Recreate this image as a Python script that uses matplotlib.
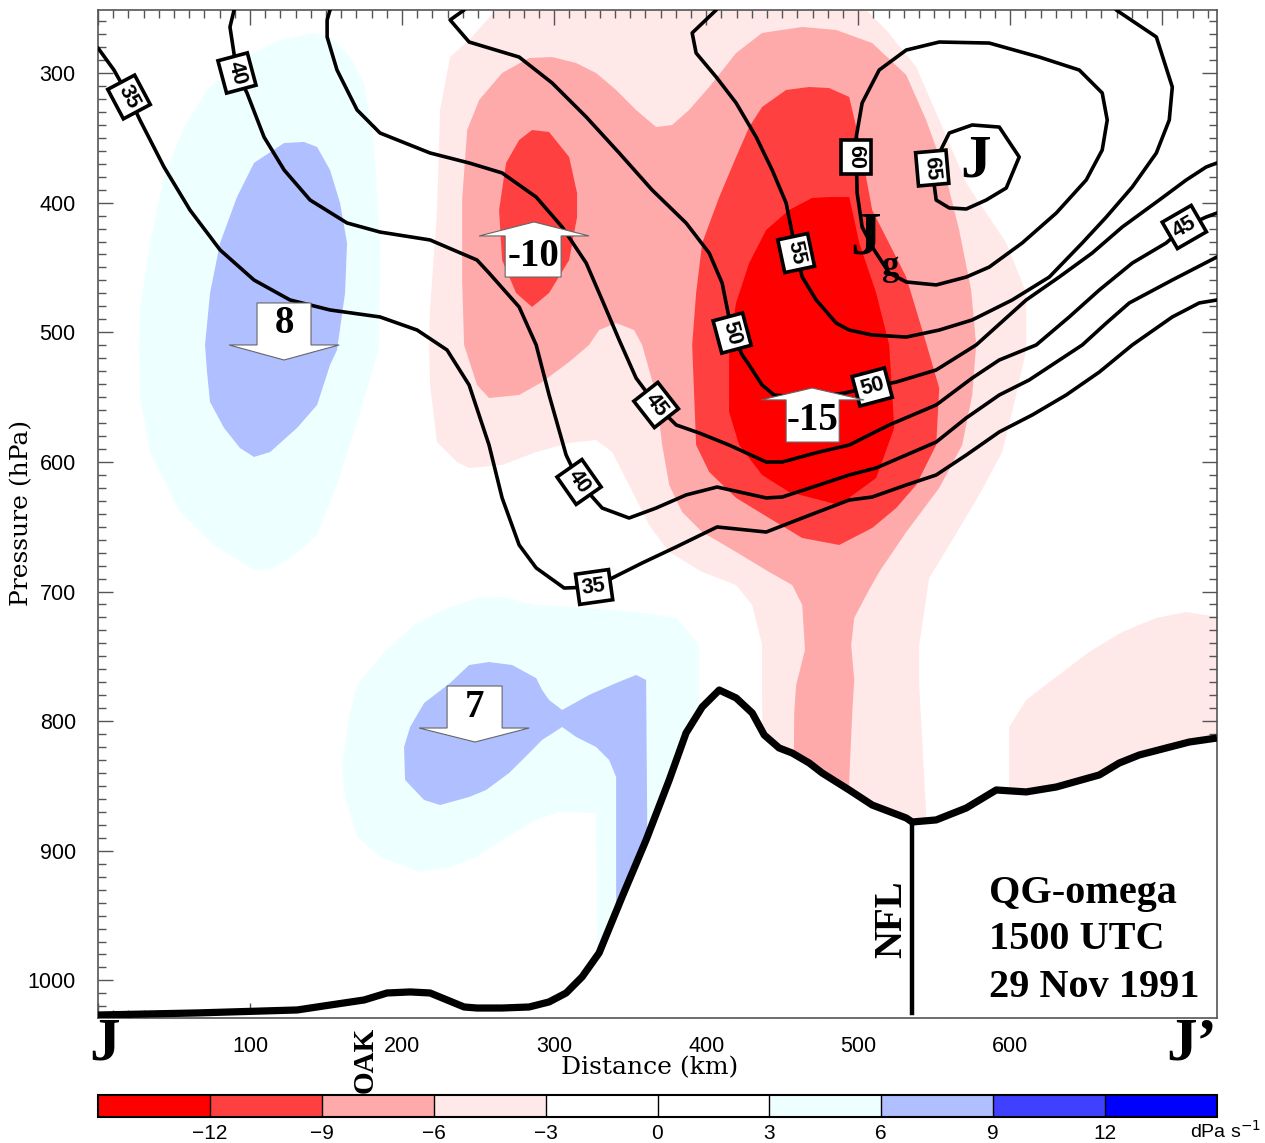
import matplotlib
matplotlib.use("Agg")
import matplotlib.pyplot as plt
from matplotlib.colors import ListedColormap, BoundaryNorm
from matplotlib.cm import ScalarMappable
from matplotlib.ticker import MultipleLocator

# ---------------- data (distance km, pressure hPa) ----------------
omega_levels = [-15, -12, -9, -6, -3, 0, 3, 6, 9, 12, 15]
omega_colors = ['#ff0000', '#ff4040', '#ffaaaa', '#ffe8e8', '#ffffff',
                '#ffffff', '#eeffff', '#afbfff', '#4040ff', '#0000ff']
cbar_ticks = [-12, -9, -6, -3, 0, 3, 6, 9, 12]

x_ticks = [0, 100, 200, 300, 400, 500, 600, 700]
x_ticklabels = ['', '100', '200', '300', '400', '500', '600', '']
y_ticks = [300, 400, 500, 600, 700, 800, 900, 1000]

terrain = [(0, 1026.7), (65.1, 1025.1), (131, 1022.8), (152.6, 1019), (175, 1015.1),
           (190.1, 1009.7), (205.3, 1008.9), (218.4, 1009.7), (229.6, 1015.1),
           (240.8, 1020.5), (249.3, 1021.3), (265.8, 1021.3), (283.6, 1020.5),
           (296.7, 1016.6), (307.9, 1009.7), (318.4, 997.3), (329.6, 978.8),
           (344.7, 935.6), (360.5, 891.7), (375.7, 845.4), (386.8, 809.1),
           (397.4, 789.1), (408.6, 776), (419.7, 782.1), (430.3, 793.7),
           (438.2, 810.7), (448, 820.7), (456.6, 824.6), (467.8, 832.3),
           (476.3, 840), (494.1, 853.1), (509.2, 864.7), (531.6, 874.7),
           (535.5, 877.8), (551.3, 876.2), (571.1, 867), (590.8, 853.1),
           (610.5, 854.6), (630.3, 850.8), (658.6, 841.5), (671.7, 832.3),
           (684.9, 826.1), (702.6, 820.7), (717.8, 816.1), (736, 813)]
nfl_km = 535.5
nfl_top_hpa = 877.8
nfl_bottom_hpa = 1025

# omega (dPa/s) filled regions, boundary polygons per contour level
omega_m3_main = [(261.8, 251.4), (505.3, 251.4), (518.4, 266.8), (538.2, 295.4), (553.3, 336.3),
                 (571.1, 384.9), (597.4, 431.1), (610.5, 469.7), (610.5, 513.7), (601.3, 561.5),
                 (594.7, 592.4), (579.6, 625.5), (559.9, 664.1), (546.7, 689.6), (540.1, 741.2),
                 (540.1, 772.1), (544.7, 870.8), (544.7, 1029), (438.2, 1029), (436.8, 772.1),
                 (436.8, 741.2), (430.3, 710.4), (419.7, 695), (397.4, 684.9), (375.7, 669.5),
                 (362.5, 648.7), (349.3, 617.8), (338.2, 592.4), (327.6, 583.1), (309.9, 585.4),
                 (288.2, 592.4), (265.8, 602.4), (244.1, 604.7), (236.2, 600.1), (223, 584.7),
                 (218.4, 540.7), (217.8, 509.8), (218.4, 482.8), (223, 405.7), (225, 328.5),
                 (231.6, 287.7), (244.1, 274.5)]
omega_m3_right = [(599.3, 1029), (599.3, 850.8), (599.3, 804.5), (610.5, 783.7), (627.6, 768.2),
                  (652, 746.6), (673.7, 731.2), (696.1, 720.4), (715.8, 715.8), (736, 719.6),
                  (736, 1029)]
omega_m6 = [(250.7, 320.8), (265.8, 300), (283.6, 288.4), (298.7, 287.7), (314.5, 292.3),
            (327.6, 300), (340.8, 313.1), (353.9, 328.5), (367.1, 341.7), (377.6, 340.1),
            (388.8, 328.5), (402, 310.8), (419.7, 284.6), (436.8, 269.1), (463.2, 264.5),
            (485.5, 266.8), (509.2, 276.9), (531.6, 301.5), (544.7, 336.3), (556.6, 374.8),
            (566.4, 421.1), (574.3, 467.4), (577.6, 509.8), (575, 548.4), (568.4, 587),
            (553.3, 620.1), (531.6, 654.1), (513.8, 684.9), (505.3, 702.7), (497.4, 720.4),
            (495.4, 741.2), (497.4, 768.2), (496.1, 793.7), (494.1, 845.4), (494.1, 1029),
            (456.6, 1029), (457.9, 793.7), (459.2, 772.1), (465, 745), (463.2, 710.4),
            (456.6, 695), (441.4, 684.9), (419.7, 669.5), (397.4, 654.1), (384.2, 638.7),
            (375.7, 617.8), (371.1, 587), (367.1, 548.4), (357.9, 509.8), (352.6, 498.3),
            (340.8, 492.9), (329.6, 498.3), (323, 509.8), (309.9, 522.9), (292.1, 538.4),
            (277, 548.4), (257.2, 550.7), (249.3, 540.7), (240.8, 509.8), (239.5, 459.7),
            (239.5, 398), (242.8, 344)]
omega_m9_left = [(285.5, 344), (296.7, 345.5), (309.9, 364.8), (315.1, 392.6), (315.1, 411.1),
                 (309.9, 444.3), (296.7, 469.7), (285.5, 480.5), (275, 469.7), (265.8, 444.3),
                 (263.8, 405.7), (268.4, 369.4), (277, 351.7)]
omega_m9_center = [(452.6, 313.1), (467.8, 310.8), (480.9, 311.6), (494.1, 318.5), (500.7, 351.7),
                   (509.2, 405.7), (531.6, 457.4), (544.7, 508.3), (553.3, 543), (551.3, 587),
                   (538.2, 617.8), (525, 635.6), (509.2, 651), (487.5, 664.1), (463.2, 658.7),
                   (441.4, 643.3), (419.7, 627.8), (402, 607.8), (393.4, 587), (390.8, 509.8),
                   (393.4, 469.7), (397.4, 431.1), (408.6, 395.7), (419.7, 364.8), (428.3, 341.7),
                   (436.8, 326.2)]
omega_m12 = [(469.7, 396.4), (480.9, 395.7), (494.1, 395.7), (500.7, 431.1), (511.8, 469.7),
             (520.4, 509.8), (523.7, 573.8), (511.8, 612.4), (487.5, 633.3), (454.6, 623.2),
             (436.8, 610.1), (421.7, 587), (415.1, 561.5), (415.1, 509.8), (419.7, 477.4),
             (428.3, 446.6), (439.5, 421.1), (454.6, 405.7)]
omega_p3_upper = [(142.1, 269.1), (152.6, 272.2), (165.8, 287.7), (175, 307.7), (181.6, 354),
                  (185.5, 431.1), (184.9, 512.1), (172.4, 561.5), (157.2, 617.8), (144.1, 656.4),
                  (130.9, 670.3), (115.8, 681.8), (102.6, 683.4), (76.3, 664.1), (53.9, 638.7),
                  (34.2, 592.4), (27.6, 548.4), (27, 509.8), (27.6, 482.8), (34.2, 431.1),
                  (43.4, 380.2), (56.6, 341.7), (71.7, 313.1), (93.4, 290), (119.7, 274.5)]
omega_p6_upper = [(102.6, 369.4), (122.4, 354), (135.5, 353.2), (144.1, 357.1), (152.6, 374.8),
                  (159.2, 400.3), (163.8, 431.1), (162.5, 469.7), (157.2, 513.7), (152.6, 525.3),
                  (144.1, 556.1), (130.9, 573.8), (113.2, 592.4), (102.6, 596.2), (93.4, 589.3),
                  (82.9, 573.8), (73.7, 553.8), (71.7, 530.7), (70.4, 509.8), (73.7, 469.7),
                  (80.3, 431.1), (91.4, 395.7)]
omega_p3_lower = [(170.4, 772.1), (188.2, 746.6), (207.9, 725.8), (229.6, 712.7), (249.3, 705),
                  (265.8, 704.2), (288.2, 710.4), (321.1, 712.7), (353.9, 715.8), (380.3, 720.4),
                  (395.4, 741.2), (395.4, 783.7), (395.4, 1029), (329.6, 1029), (328.3, 974.2),
                  (327.6, 870.8), (303.3, 870.1), (288.2, 876.2), (265.8, 891.7), (249.3, 904.8),
                  (231.6, 912.5), (211.8, 916.4), (185.5, 904.8), (170.4, 889.3), (162.5, 858.5),
                  (160.5, 832.3), (165.8, 793.7)]
omega_p6_lower = [(205.3, 804.5), (214.5, 786), (231.6, 770.6), (244.1, 756.7), (257.2, 754.4),
                  (272.4, 756.7), (288.2, 766.8), (292.1, 776), (296.7, 783.7), (305.3, 791.4),
                  (323, 779.8), (340.8, 770.6), (353.9, 764.4), (360.5, 768.2), (361.2, 870.8),
                  (361.2, 1029), (340.8, 1029), (340.8, 843.1), (336.2, 830), (327.6, 819.9),
                  (314.5, 812.2), (305.3, 804.5), (292.1, 814.5), (283.6, 824.6), (270.4, 840),
                  (255.3, 853.1), (244.1, 858.5), (225, 864.7), (214.5, 860.8), (202, 845.4),
                  (201.3, 819.9)]

# isotachs (m/s)
iso35 = [(0, 280.7), (10.5, 297.7), (20.4, 318.5), (27.6, 336.3), (43.4, 372.5), (60.5, 405.7),
         (80.3, 436.5), (102.6, 459.7), (126.3, 475.1), (152.6, 482.8), (185.5, 488.2),
         (209.9, 498.3), (229.6, 513.7), (244.1, 540.7), (257.2, 587), (265.8, 627.8),
         (277, 664.1), (288.2, 681.8), (306.6, 697.3), (326.3, 696.5), (338.2, 689.6),
         (357.9, 678), (380.3, 665.6), (407.2, 650.2), (439.5, 654.1), (463.2, 643.3),
         (494.1, 629.4), (509.2, 627.1), (531.6, 617.8), (551.3, 610.1), (571.1, 594.7),
         (592.8, 576.9), (614.5, 563.8), (636.8, 548.4), (658.6, 530.7), (680.3, 509.8),
         (706.6, 488.2), (724.3, 477.4), (736, 475.1)]
iso40 = [(89.5, 251.4), (86.8, 264.5), (91.4, 300), (98, 315.4), (109.2, 349.4), (122.4, 374.8),
         (139.5, 398), (163.8, 415.7), (185.5, 422.7), (218.4, 428.8), (249.3, 444.3),
         (257.2, 454.3), (277, 480.5), (288.2, 509.8), (296.7, 548.4), (307.9, 594.7),
         (316.4, 615.5), (331.6, 635.6), (349.3, 643.3), (367.1, 635.6), (386.8, 625.5),
         (407.2, 619.4), (439.5, 627.8), (450, 627.1), (474.3, 617.8), (494.1, 610.1),
         (511.8, 604.7), (551.3, 584.7), (571.1, 566.1), (592.8, 548.4), (612.5, 536.8),
         (647.4, 509.8), (663.2, 492.9), (678.3, 477.4), (706.6, 459.7), (736, 441.9)]
iso45 = [(152.6, 251.4), (150.7, 259.1), (150.7, 272.2), (157.2, 297.7), (170.4, 328.5),
         (185.5, 346.3), (218.4, 361.7), (244.1, 369.4), (265.8, 377.1), (288.2, 395.7),
         (305.3, 418.8), (321.1, 446.6), (331.6, 475.1), (342.8, 506), (353.9, 535.3),
         (367.1, 556.1), (380.3, 571.5), (395.4, 577.7), (415.1, 587), (439.5, 600.1),
         (450, 600.1), (474.3, 592.4), (494.1, 587), (520.4, 571.5), (551.3, 556.1),
         (575, 535.3), (592.8, 521.4), (617.1, 509.8), (638.8, 488.2), (658.6, 467.4),
         (680.3, 446.6), (702.6, 431.1), (714.5, 418.8), (728.9, 411.1), (736, 408)]
iso50 = [(240.8, 251.4), (231.6, 259.1), (244.1, 276.1), (277, 287.7), (298.7, 307.7),
         (321.1, 333.9), (342.8, 361.7), (364.5, 390.3), (386.8, 415.7), (402, 438.9),
         (410.5, 462), (417.1, 500.6), (423.7, 517.5), (428.3, 525.3), (436.8, 540.7),
         (444.7, 548.4), (467.8, 550.7), (490.8, 546.9), (509.2, 542.2), (525, 538.4),
         (551.3, 529.1), (577.6, 509.8), (610.5, 475.1), (632.2, 457.4), (653.9, 438.9),
         (673.7, 418.8), (698, 398), (715.8, 382.5), (728.9, 372.5), (736, 369.4)]
iso55 = [(406.6, 251.4), (390.8, 269.1), (393.4, 284.6), (406.6, 303.1), (419.7, 323.1),
         (432.9, 349.4), (443.4, 374.8), (452.6, 400.3), (459.2, 438.9), (463.2, 457.4),
         (472.4, 475.1), (485.5, 492.9), (494.1, 498.3), (509.2, 502.1), (531.6, 503.7),
         (553.3, 498.3), (575, 490.5), (601.3, 475.1), (625.7, 457.4), (647.4, 431.1),
         (663.2, 411.1), (680.3, 387.9), (696.1, 361.7), (704.6, 336.3), (706.6, 310.8),
         (696.1, 272.2), (669.7, 251.4)]
iso60 = [(498.7, 364.8), (499.3, 392.6), (502.6, 418.8), (510.5, 436.5), (520.4, 454.3),
         (531.6, 461.2), (551.3, 463.5), (571.1, 457.4), (586.2, 449.7), (607.9, 431.1),
         (630.3, 408), (650, 382.5), (660.5, 359.4), (663.8, 336.3), (660.5, 315.4),
         (645.4, 297.7), (619.1, 287.7), (586.2, 276.9), (553.3, 276.1), (531.6, 282.3),
         (513.8, 297.7), (502.6, 323.1), (498.7, 349.4), (498.7, 364.8)]
iso65 = [(548.7, 373.3), (555.3, 357.1), (559.9, 346.3), (575, 340.1), (592.8, 341.7),
         (605.9, 364.8), (597.4, 388.7), (584.2, 398), (571.1, 404.9), (559.9, 404.1),
         (551.3, 398), (550, 386.4), (548.7, 373.3)]
isotachs = [iso35, iso40, iso45, iso50, iso55, iso60, iso65]

# isotach labels: (value, km, hPa, rotation)
iso_labels = [('35', 20.4, 318.5, -62), ('40', 91.4, 300, -75), ('45', 367.1, 556.1, -52),
              ('40', 316.4, 615.5, -55), ('35', 326.3, 696.5, 8), ('50', 417.1, 500.6, -75),
              ('55', 459.2, 438.9, -78), ('60', 498.7, 364.8, -90), ('65', 548.7, 373.3, -85),
              ('50', 509.2, 542.2, 15), ('45', 714.5, 418.8, 30)]

# vertical-motion arrows: (label, box x0, box x1, box end, head level, head x0, head x1, tip x, tip p)
arrows = [('8', 104.6, 140.1, 477.4, 509.8, 86.2, 158.6, 122.4, 521.4),
          ('7', 229.6, 265.8, 772.9, 805.3, 211.2, 283.6, 248.0, 816.1),
          ('-10', 267.8, 304.6, 457.4, 425.7, 250.7, 323.0, 286.8, 414.9),
          ('-15', 452.6, 487.5, 584.7, 552.2, 436.2, 503.9, 469.7, 543.0)]

# ---------------- figure ----------------
W, H = 1265, 1143
fig = plt.figure(figsize=(W / 100, H / 100), dpi=100)
ax = fig.add_axes([98 / W, 1 - 1018 / H, 1119 / W, 1008 / H])
ax.set_xlim(0, 736)
ax.set_ylim(1029, 251.4)

SERIF = ['Liberation Serif', 'DejaVu Serif']
SANS = ['Liberation Sans', 'DejaVu Sans']
fills = [(omega_p3_upper, omega_colors[6]), (omega_p6_upper, omega_colors[7]),
         (omega_p3_lower, omega_colors[6]), (omega_p6_lower, omega_colors[7]),
         (omega_m3_main, omega_colors[3]), (omega_m3_right, omega_colors[3]),
         (omega_m6, omega_colors[2]), (omega_m9_left, omega_colors[1]),
         (omega_m9_center, omega_colors[1]), (omega_m12, omega_colors[0])]
for poly, col in fills:
    xs, ys = zip(*poly)
    ax.fill(xs, ys, color=col, lw=0, zorder=1)

tx, tp = zip(*terrain)
ax.fill_between(tx, tp, 1029, color='white', lw=0, zorder=2)

for iso in isotachs:
    xs, ys = zip(*iso)
    ax.plot(xs, ys, color='black', lw=2.6, zorder=3, solid_joinstyle='round',
            solid_capstyle='round')

for txt, x, y, rot in iso_labels:
    ax.text(x, y, txt, rotation=rot, rotation_mode='anchor', ha='center', va='center',
            fontsize=15.5, fontweight='bold', family=SANS, zorder=4,
            bbox=dict(boxstyle='square,pad=0.22', fc='white', ec='black', lw=2.6))

for lab, bx0, bx1, bend, hy, hx0, hx1, tipx, tipy in arrows:
    pts = [(bx0, bend), (bx1, bend), (bx1, hy), (hx1, hy), (tipx, tipy), (hx0, hy), (bx0, hy)]
    xs, ys = zip(*pts)
    ax.fill(xs, ys, fc='white', ec='#666666', lw=0.8, zorder=5)
    ax.text((bx0 + bx1) / 2, (bend + hy) / 2, lab, ha='center', va='center', fontsize=28,
            fontweight='bold', family=SERIF, zorder=6)

ax.plot(tx, tp, color='black', lw=5.2, zorder=7, solid_capstyle='butt',
        solid_joinstyle='round')
ax.plot([nfl_km, nfl_km], [nfl_top_hpa, nfl_bottom_hpa], color='black', lw=3.2, zorder=7)

# annotations
ax.text(577.5, 368, 'J', ha='center', va='center', fontsize=44, fontweight='bold',
        family=SERIF, zorder=8)
ax.text(505, 428, 'J', ha='center', va='center', fontsize=44, fontweight='bold',
        family=SERIF, zorder=8)
ax.text(521, 449, 'g', ha='center', va='center', fontsize=25, fontweight='bold',
        family=SERIF, zorder=8)
ax.text(522.4, 953, 'NFL', ha='center', va='center', rotation=90, fontsize=28,
        fontweight='bold', family=SERIF, zorder=8)
for txt, p in [('QG-omega', 932.6), ('1500 UTC', 968.8), ('29 Nov 1991', 1005.8)]:
    ax.text(586.2, p, txt, ha='left', va='center', fontsize=29, fontweight='bold',
            family=SERIF, zorder=8)

# axes styling
ax.set_xticks(x_ticks)
ax.set_xticklabels(x_ticklabels)
ax.set_yticks(y_ticks)
ax.xaxis.set_minor_locator(MultipleLocator(10))
ax.yaxis.set_minor_locator(MultipleLocator(10))
ax.tick_params(which='both', direction='in', top=True, right=True, color='#555555', width=1)
ax.tick_params(which='major', length=11)
ax.tick_params(which='minor', length=6)
ax.tick_params(axis='x', which='major', pad=13, labelsize=15.5)
ax.tick_params(axis='y', which='major', pad=16, labelsize=15.5)
for lab in ax.get_xticklabels() + ax.get_yticklabels():
    lab.set_family(SANS)
for s in ax.spines.values():
    s.set_color('#555555')
    s.set_linewidth(1.2)
ax.set_xlabel('Distance (km)', fontsize=18, family=['DejaVu Serif'])
ax.set_ylabel('Pressure (hPa)', fontsize=18, family=['DejaVu Serif'])
ax.xaxis.set_label_coords((650 - 98) / 1119, (1018 - 1056) / 1008)
ax.yaxis.set_label_coords((33 - 98) / 1119, (1018 - 513) / 1008)

fig.text(105 / W, 1 - 1045 / H, 'J', ha='center', va='center', fontsize=44,
         fontweight='bold', family=SERIF)
fig.text(1192 / W, 1 - 1045 / H, 'J\u2019', ha='center', va='center', fontsize=44,
         fontweight='bold', family=SERIF)
fig.text(365 / W, 1 - 1060 / H, 'OAK', ha='center', va='center', rotation=90, fontsize=21,
         fontweight='bold', family=SERIF)

# colorbar
cax = fig.add_axes([98 / W, 1 - 1117 / H, 1119 / W, 22 / H])
cmap = ListedColormap(omega_colors)
norm = BoundaryNorm(omega_levels, cmap.N)
cb = fig.colorbar(ScalarMappable(norm=norm, cmap=cmap), cax=cax, orientation='horizontal',
                  drawedges=True)
cb.set_ticks(cbar_ticks)
cb.set_ticklabels(['\u2212' + str(-t) if t < 0 else str(t) for t in cbar_ticks])
cb.ax.minorticks_off()
cb.ax.tick_params(length=0, labelsize=15, pad=5)
for lab in cb.ax.get_xticklabels():
    lab.set_family(SANS)
cb.outline.set_linewidth(1.5)
cb.dividers.set_linewidth(1.0)
fig.text(1190 / W, 1 - 1131 / H, 'dPa s$^{-1}$', ha='left', va='center', fontsize=14,
         family=SANS)

fig.savefig('out.png', dpi=100)
